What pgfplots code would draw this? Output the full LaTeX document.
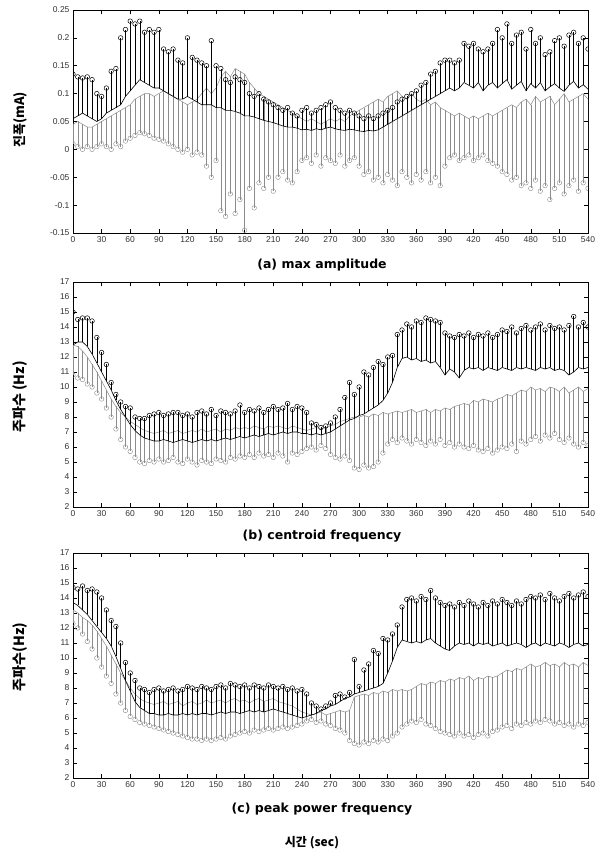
\documentclass[border=0pt]{standalone}
\usepackage{fontspec}
\usepackage{pgfplots}
\usepackage{pgfplotstable}
\pgfplotsset{compat=1.18}
\setmainfont{Liberation Sans}
\newfontfamily\kr{Noto Sans CJK KR}
\newfontfamily\ttl{DejaVu Sans}

% t = time (s); b1/t1 = dark series line and top of its bars;
% m2/l2 = grey series line and bottom of its bars
\pgfplotstableread{
t b1 t1 m2 l2
0 0.055 0.135 0.045 0.010
5 0.060 0.130 0.050 0.005
10 0.065 0.128 0.045 0.000
15 0.060 0.130 0.040 0.005
20 0.055 0.125 0.040 0.000
25 0.050 0.100 0.045 0.005
30 0.055 0.095 0.050 0.010
35 0.065 0.110 0.055 0.005
40 0.070 0.140 0.060 0.000
45 0.075 0.145 0.065 0.010
50 0.080 0.200 0.070 0.005
55 0.095 0.215 0.075 0.015
60 0.105 0.230 0.080 0.020
65 0.115 0.225 0.090 0.025
70 0.125 0.230 0.095 0.030
75 0.120 0.210 0.100 0.028
80 0.115 0.215 0.100 0.025
85 0.110 0.210 0.095 0.020
90 0.110 0.215 0.100 0.018
95 0.105 0.180 0.105 0.015
100 0.100 0.175 0.100 0.010
105 0.095 0.180 0.095 0.005
110 0.090 0.160 0.090 0.000
115 0.090 0.155 0.085 -0.005
120 0.095 0.200 0.080 0.000
125 0.090 0.165 0.085 -0.010
130 0.085 0.160 0.090 -0.005
135 0.080 0.155 0.100 -0.010
140 0.080 0.150 0.110 -0.030
145 0.080 0.195 0.100 -0.050
150 0.075 0.150 0.110 -0.020
155 0.075 0.145 0.130 -0.110
160 0.070 0.125 0.140 -0.120
165 0.070 0.120 0.130 -0.080
170 0.068 0.130 0.145 -0.115
175 0.065 0.125 0.140 -0.090
180 0.060 0.120 0.135 -0.145
185 0.060 0.100 0.120 -0.070
190 0.058 0.095 0.110 -0.105
195 0.055 0.100 0.100 -0.060
200 0.052 0.090 0.095 -0.070
205 0.050 0.085 0.090 -0.050
210 0.048 0.080 0.085 -0.075
215 0.045 0.075 0.080 -0.050
220 0.042 0.070 0.075 -0.040
225 0.040 0.075 0.070 -0.055
230 0.040 0.065 0.065 -0.060
235 0.038 0.060 0.060 -0.040
240 0.035 0.070 0.055 -0.020
245 0.036 0.075 0.050 -0.015
250 0.034 0.065 0.055 -0.025
255 0.037 0.070 0.050 -0.010
260 0.035 0.075 0.045 -0.030
265 0.038 0.080 0.050 -0.015
270 0.040 0.085 0.055 -0.020
275 0.037 0.075 0.050 -0.025
280 0.035 0.070 0.055 -0.010
285 0.034 0.065 0.050 -0.030
290 0.036 0.070 0.060 -0.020
295 0.035 0.065 0.065 -0.015
300 0.033 0.060 0.070 -0.030
305 0.032 0.055 0.075 -0.045
310 0.034 0.060 0.080 -0.040
315 0.033 0.055 0.085 -0.055
320 0.035 0.060 0.090 -0.050
325 0.040 0.065 0.085 -0.060
330 0.045 0.070 0.095 -0.045
335 0.050 0.075 0.100 -0.055
340 0.055 0.085 0.105 -0.065
345 0.060 0.090 0.095 -0.040
350 0.065 0.095 0.090 -0.050
355 0.070 0.100 0.100 -0.060
360 0.075 0.105 0.090 -0.045
365 0.080 0.115 0.085 -0.055
370 0.085 0.120 0.090 -0.040
375 0.090 0.135 0.080 -0.060
380 0.095 0.140 0.085 -0.050
385 0.100 0.155 0.075 -0.065
390 0.105 0.160 0.070 -0.030
395 0.110 0.160 0.065 -0.015
400 0.105 0.155 0.060 -0.010
405 0.110 0.160 0.065 -0.020
410 0.120 0.190 0.060 -0.015
415 0.115 0.185 0.055 -0.010
420 0.110 0.190 0.060 -0.020
425 0.120 0.180 0.055 -0.015
430 0.105 0.175 0.060 -0.010
435 0.115 0.180 0.065 -0.020
440 0.120 0.190 0.060 -0.025
445 0.110 0.215 0.065 -0.030
450 0.118 0.200 0.070 -0.040
455 0.125 0.225 0.075 -0.045
460 0.108 0.190 0.080 -0.055
465 0.115 0.205 0.075 -0.050
470 0.122 0.210 0.085 -0.065
475 0.105 0.180 0.090 -0.060
480 0.118 0.215 0.080 -0.070
485 0.110 0.190 0.095 -0.055
490 0.120 0.200 0.085 -0.075
495 0.105 0.170 0.090 -0.065
500 0.112 0.175 0.095 -0.090
505 0.118 0.195 0.080 -0.070
510 0.110 0.200 0.090 -0.060
515 0.104 0.185 0.100 -0.080
520 0.115 0.205 0.085 -0.065
525 0.122 0.210 0.090 -0.055
530 0.110 0.190 0.095 -0.075
535 0.116 0.200 0.100 -0.060
540 0.108 0.180 0.090 -0.070
}\amp

\pgfplotstableread{
t b1 t1 m2 l2
0 12.8 15.0 12.8 10.8
5 13.0 14.5 12.7 10.6
10 13.0 14.6 12.4 10.5
15 12.7 14.6 12.0 10.2
20 12.2 14.4 11.5 10.0
25 11.6 13.3 11.0 9.6
30 11.0 12.3 10.4 9.2
35 10.4 11.5 9.8 8.6
40 9.8 10.3 9.2 8.0
45 9.1 9.5 8.7 7.2
50 8.5 9.0 8.3 6.5
55 8.0 8.7 8.0 6.0
60 7.5 8.6 7.7 5.7
65 7.1 8.0 7.5 5.3
70 6.8 7.9 7.3 5.0
75 6.6 7.9 7.1 4.9
80 6.5 8.1 7.0 5.1
85 6.4 8.2 6.9 5.0
90 6.4 8.3 7.0 5.2
95 6.5 8.1 7.1 5.0
100 6.4 8.2 6.9 5.1
105 6.3 8.3 7.0 5.3
110 6.4 8.3 7.1 5.0
115 6.5 8.1 6.9 4.9
120 6.4 8.2 7.0 5.2
125 6.3 8.0 7.1 5.0
130 6.4 8.3 7.0 4.8
135 6.5 8.4 7.2 5.1
140 6.4 8.2 7.0 5.0
145 6.5 8.5 7.1 4.9
150 6.4 8.1 7.2 5.2
155 6.5 8.4 7.0 5.1
160 6.6 8.3 7.2 5.0
165 6.5 8.2 7.1 5.3
170 6.6 8.4 7.3 5.2
175 6.7 8.8 7.2 5.4
180 6.6 8.3 7.3 5.3
185 6.7 8.5 7.2 5.5
190 6.8 8.4 7.4 5.3
195 6.7 8.6 7.3 5.6
200 6.8 8.3 7.2 5.4
205 6.9 8.5 7.4 5.5
210 6.8 8.7 7.3 5.3
215 6.9 8.5 7.4 5.6
220 7.0 8.6 7.3 5.4
225 6.9 8.9 7.2 5.0
230 7.0 8.5 7.4 5.6
235 7.0 8.7 7.3 5.5
240 6.9 8.6 7.2 5.7
245 6.9 8.3 7.1 5.9
250 6.8 7.6 7.2 6.0
255 6.9 7.5 7.3 5.8
260 6.8 7.3 7.2 6.1
265 6.9 7.4 7.3 5.9
270 7.0 7.6 7.4 5.5
275 7.2 8.0 7.5 5.3
280 7.4 8.5 7.7 5.2
285 7.6 9.3 7.8 5.4
290 7.8 10.3 7.9 5.1
295 7.9 9.5 8.0 4.6
300 8.1 10.0 8.0 4.5
305 8.2 11.0 8.1 4.8
310 8.4 10.8 8.0 4.6
315 8.6 11.3 8.2 4.7
320 8.8 11.7 8.1 5.0
325 9.1 11.5 8.3 5.6
330 9.6 12.0 8.2 6.2
335 10.3 12.1 8.3 6.5
340 11.3 13.5 8.4 6.3
345 11.9 13.8 8.3 6.6
350 12.0 14.2 8.4 6.4
355 11.8 14.0 8.5 6.2
360 11.9 14.4 8.3 6.5
365 11.7 14.3 8.4 6.3
370 11.8 14.6 8.5 6.1
375 11.6 14.5 8.3 6.4
380 11.7 14.4 8.5 6.2
385 11.3 14.3 8.4 6.5
390 10.8 13.6 8.6 6.1
395 11.2 13.4 8.5 6.3
400 11.0 13.3 8.7 6.0
405 10.6 13.5 8.8 6.2
410 11.1 13.4 8.9 6.0
415 11.3 13.6 8.8 5.9
420 11.2 13.3 9.1 6.1
425 11.3 13.5 9.0 5.8
430 11.1 13.4 9.2 5.7
435 11.3 13.6 9.1 5.9
440 11.2 13.3 9.0 5.6
445 11.1 13.5 9.2 5.8
450 11.3 13.8 9.3 6.0
455 11.2 13.7 9.5 5.9
460 11.1 14.0 9.4 6.2
465 11.3 13.6 9.6 5.7
470 11.2 13.9 9.8 6.4
475 11.3 14.1 9.7 6.2
480 11.2 13.8 10.0 6.5
485 11.1 14.0 9.8 6.7
490 11.3 14.2 9.9 6.4
495 11.2 13.8 9.7 6.8
500 11.3 14.1 10.0 6.6
505 11.1 13.9 9.9 6.9
510 11.2 14.0 9.7 6.5
515 11.1 13.8 10.0 6.3
520 10.8 14.1 9.6 6.6
525 11.0 14.7 9.8 6.2
530 11.3 14.0 10.0 6.0
535 11.2 14.3 9.7 6.3
540 11.3 14.0 9.9 6.1
}\cen

\pgfplotstableread{
t b1 t1 m2 l2
0 13.7 14.7 13.2 12.3
5 13.5 14.6 13.0 12.0
10 13.2 14.8 12.7 11.6
15 12.9 14.5 12.5 11.1
20 12.5 14.6 12.2 10.6
25 12.1 14.4 11.8 10.0
30 11.7 14.0 11.3 9.4
35 11.3 13.2 10.8 8.8
40 10.8 12.5 10.2 8.3
45 10.1 12.1 9.6 7.6
50 9.3 11.0 9.0 7.0
55 8.5 9.7 8.5 6.5
60 7.8 9.0 8.0 6.1
65 7.1 8.5 7.6 5.9
70 6.7 8.0 7.3 5.7
75 6.5 7.9 7.1 5.6
80 6.3 7.7 7.0 5.5
85 6.3 7.9 6.9 5.4
90 6.2 8.0 7.0 5.3
95 6.2 7.8 7.1 5.2
100 6.3 7.9 6.9 5.1
105 6.2 8.0 7.0 5.0
110 6.2 7.8 7.1 4.9
115 6.3 7.9 6.8 4.8
120 6.2 8.1 7.0 4.7
125 6.3 8.0 7.1 4.6
130 6.2 7.9 6.9 4.6
135 6.3 8.1 7.0 4.5
140 6.3 8.0 7.2 4.6
145 6.2 7.9 7.0 4.5
150 6.3 8.1 7.1 4.6
155 6.4 8.2 7.2 4.7
160 6.3 8.0 7.0 4.6
165 6.4 8.3 7.2 4.8
170 6.4 8.2 7.3 4.9
175 6.3 8.1 7.1 5.0
180 6.4 8.2 7.2 5.1
185 6.5 8.0 7.0 5.0
190 6.4 8.2 7.2 5.2
195 6.5 8.1 7.3 5.1
200 6.4 8.0 7.1 5.2
205 6.5 8.2 7.2 5.3
210 6.6 8.1 7.3 5.2
215 6.5 8.0 7.1 5.3
220 6.4 8.1 7.0 5.4
225 6.3 7.9 6.9 5.3
230 6.2 8.0 6.8 5.4
235 6.1 7.8 6.6 5.5
240 6.0 7.9 6.4 5.6
245 6.1 7.6 6.3 5.8
250 6.2 7.0 6.2 5.9
255 6.3 6.8 6.3 5.7
260 6.5 6.6 6.4 5.8
265 6.6 6.8 6.2 5.6
270 6.8 7.0 6.3 5.5
275 6.9 7.5 6.4 5.3
280 7.1 7.6 6.5 5.2
285 7.3 7.4 6.4 5.0
290 7.4 7.7 6.5 4.5
295 7.6 9.9 7.4 4.3
300 7.7 8.1 7.5 4.2
305 7.8 9.2 7.6 4.4
310 7.9 9.6 7.5 4.3
315 8.0 10.5 7.7 4.5
320 8.1 10.3 7.6 4.4
325 8.3 11.3 7.8 4.6
330 9.0 11.2 7.7 4.5
335 9.8 11.6 7.9 4.8
340 10.7 12.2 7.8 5.0
345 11.2 13.4 7.9 5.4
350 11.1 13.9 7.8 5.6
355 11.0 14.0 7.9 5.8
360 11.1 13.8 8.1 5.7
365 11.0 14.1 8.3 5.9
370 11.2 13.9 8.2 5.6
375 11.3 14.5 8.4 5.5
380 11.0 14.0 8.3 5.3
385 10.8 13.7 8.5 5.1
390 10.6 13.5 8.4 5.0
395 10.5 13.6 8.6 4.9
400 10.8 13.4 8.5 4.8
405 11.0 13.7 8.7 5.0
410 10.9 13.5 8.6 4.8
415 11.0 13.8 8.8 4.9
420 10.8 13.6 8.5 4.7
425 11.0 13.4 8.7 4.9
430 10.9 13.7 8.6 5.0
435 11.0 13.5 8.8 4.8
440 10.8 13.8 8.7 5.1
445 10.9 13.6 8.8 5.2
450 11.0 13.9 9.0 5.4
455 10.8 13.7 9.2 5.5
460 10.9 13.5 9.1 5.3
465 11.0 13.8 9.3 5.6
470 10.9 13.6 9.2 5.5
475 10.7 13.9 9.4 5.7
480 10.9 14.1 9.6 5.6
485 11.0 14.0 9.4 5.8
490 10.8 14.2 9.5 5.7
495 11.0 13.9 9.7 5.9
500 10.9 14.3 9.5 5.8
505 10.8 14.0 9.6 5.6
510 11.0 13.8 9.4 5.7
515 10.9 14.1 9.7 5.5
520 10.7 14.3 9.5 5.6
525 10.9 14.0 9.6 5.4
530 11.0 14.2 9.4 5.6
535 10.8 14.4 9.7 5.5
540 10.9 14.1 9.5 5.7
}\peak

\colorlet{grp}{black!45}

\pgfplotsset{
  panel/.style={
    scale only axis, width=515pt, anchor=south west,
    xmin=0, xmax=540, xtick={0,30,...,540},
    tick align=inside, major tick length=4pt,
    tick style={black, line width=0.5pt},
    axis line style={line width=0.6pt},
    ticklabel style={font=\fontsize{8.5}{9}\selectfont, black!80},
    /pgf/number format/assume math mode=true,
  },
  darkser/.style={black, line width=0.6pt, mark=none,
    error bars/.cd, y dir=plus, y explicit, error mark=o,
    error bar style={black, line width=0.5pt},
    error mark options={black, mark size=2.3pt, line width=0.5pt}},
  greyser/.style={grp, line width=0.5pt, mark=none,
    error bars/.cd, y dir=minus, y explicit, error mark=o,
    error bar style={grp, line width=0.4pt},
    error mark options={grp, mark size=2.3pt, line width=0.4pt}},
}

\begin{document}
\begin{tikzpicture}
\path[use as bounding box] (0,0) rectangle (602pt,859pt);

% (a) max amplitude
\begin{axis}[panel, at={(73pt,626pt)}, height=223pt,
  ymin=-0.15, ymax=0.25,
  ytick={-0.15,-0.1,-0.05,0,0.05,0.1,0.15,0.2,0.25},
  yticklabel style={/pgf/number format/fixed, /pgf/number format/precision=2}]
\addplot[greyser] table[x=t, y=m2, y error expr=\thisrow{m2}-\thisrow{l2}] {\amp};
\addplot[darkser] table[x=t, y=b1, y error expr=\thisrow{t1}-\thisrow{b1}] {\amp};
\end{axis}

% (b) centroid frequency
\begin{axis}[panel, at={(73pt,352pt)}, height=225pt,
  ymin=2, ymax=17, ytick={2,3,...,17}]
\addplot[greyser] table[x=t, y=m2, y error expr=\thisrow{m2}-\thisrow{l2}] {\cen};
\addplot[darkser] table[x=t, y=b1, y error expr=\thisrow{t1}-\thisrow{b1}] {\cen};
\end{axis}

% (c) peak power frequency
\begin{axis}[panel, at={(73pt,81pt)}, height=225pt,
  ymin=2, ymax=17, ytick={2,3,...,17}]
\addplot[greyser] table[x=t, y=m2, y error expr=\thisrow{m2}-\thisrow{l2}] {\peak};
\addplot[darkser] table[x=t, y=b1, y error expr=\thisrow{t1}-\thisrow{b1}] {\peak};
\end{axis}

\node[font=\ttl\bfseries\fontsize{12.5}{14}\selectfont] at (322pt,594pt) {(a) max amplitude};
\node[font=\ttl\bfseries\fontsize{12.5}{14}\selectfont] at (322pt,323pt) {(b) centroid frequency};
\node[font=\ttl\bfseries\fontsize{12.5}{14}\selectfont] at (322pt,50pt) {(c) peak power frequency};
\node[font=\kr\bfseries\fontsize{12}{14}\selectfont] at (312pt,16pt) {시간 (sec)};

\node[rotate=90, font=\kr\bfseries\fontsize{13}{14}\selectfont] at (20pt,739pt) {진폭(mA)};
\node[rotate=90, font=\kr\bfseries\fontsize{14}{15}\selectfont] at (20pt,462pt) {주파수 (Hz)};
\node[rotate=90, font=\kr\bfseries\fontsize{14}{15}\selectfont] at (20pt,202pt) {주파수(Hz)};
\end{tikzpicture}
\end{document}
